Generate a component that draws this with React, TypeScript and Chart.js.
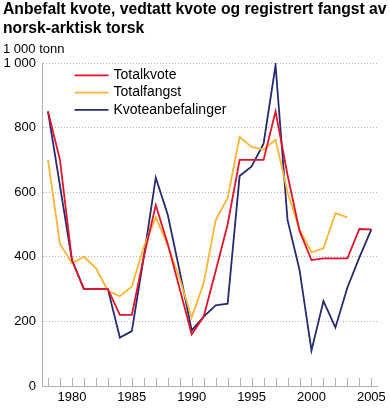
import { useEffect, useRef } from "react";
import { Chart, registerables } from "chart.js";

Chart.register(...registerables);

const years = [
  1978, 1979, 1980, 1981, 1982, 1983, 1984, 1985, 1986, 1987, 1988, 1989, 1990, 1991,
  1992, 1993, 1994, 1995, 1996, 1997, 1998, 1999, 2000, 2001, 2002, 2003, 2004, 2005,
];

const totalkvote = [
  850, 700, 390, 300, 300, 300, 220, 220, 400, 560, 440, 300, 160, 215,
  356, 500, 700, 700, 700, 850, 654, 480, 390, 395, 395, 395, 486, 485,
];

const totalfangst = [
  700, 440, 380, 400, 365, 295, 278, 308, 430, 523, 435, 332, 212, 319,
  513, 582, 771, 740, 732, 762, 600, 485, 414, 426, 535, 522, null, null,
];

const kvoteanbefalinger = [
  850, 620, 390, 300, 300, 300, 150, 170, 400, 645, 530, 355, 172, 215,
  250, 255, 650, 680, 750, 993, 514, 360, 110, 263, 181, 305, 398, 485,
];

const seriesNames = ["Totalkvote", "Totalfangst", "Kvoteanbefalinger"];
const seriesColors = ["#e2132a", "#fbb534", "#262c70"];

const titleLines = [
  "Anbefalt kvote, vedtatt kvote og registrert fangst av",
  "norsk-arktisk torsk",
];
const unitLabel = "1 000 tonn";

const FONT = "'Liberation Sans', Arial, Helvetica, sans-serif";

const textPlugin = {
  id: "textPlugin",
  afterDraw(chart: any) {
    const ctx = chart.ctx;
    ctx.save();
    // inward tick marks on x axis, one per category
    const xs = chart.scales.x;
    ctx.strokeStyle = "#b0b0b0";
    ctx.lineWidth = 1;
    ctx.beginPath();
    for (let i = 0; i < years.length; i++) {
      const px = Math.round(xs.getPixelForTick(i)) + 0.5;
      ctx.moveTo(px, xs.top);
      ctx.lineTo(px, xs.top - 8);
    }
    ctx.stroke();

    ctx.fillStyle = "#000";
    ctx.textAlign = "left";
    ctx.textBaseline = "alphabetic";
    ctx.font = `bold 15.7px ${FONT}`;
    ctx.fillText(titleLines[0], 3, 13.5);
    ctx.fillText(titleLines[1], 3, 33.3);
    ctx.font = `13px ${FONT}`;
    ctx.fillText(unitLabel, 3, 53.3);

    // legend inside plot area
    const area = chart.chartArea;
    const lx = area.left + 32.5;
    const ly = area.top + 12.4;
    chart.data.datasets.forEach((ds: any, i: number) => {
      const y = ly + i * 17.2;
      ctx.strokeStyle = ds.borderColor;
      ctx.lineWidth = 1.8;
      ctx.beginPath();
      ctx.moveTo(lx, y);
      ctx.lineTo(lx + 34, y);
      ctx.stroke();
      ctx.fillStyle = "#000";
      ctx.font = `14px ${FONT}`;
      ctx.textBaseline = "middle";
      ctx.fillText(ds.label, lx + 39, y);
    });
    ctx.restore();
  },
};

export default function App() {
  const ref = useRef<HTMLCanvasElement | null>(null);

  useEffect(() => {
    document.body.style.margin = "0";
    const canvas = ref.current;
    if (!canvas) return;
    const chart = new Chart(canvas, {
      type: "line",
      data: {
        labels: years.map(String),
        datasets: [totalkvote, totalfangst, kvoteanbefalinger].map((d, i) => ({
          label: seriesNames[i],
          data: d,
          borderColor: seriesColors[i],
          backgroundColor: seriesColors[i],
          borderWidth: 1.8,
          pointRadius: 0,
          tension: 0,
          fill: false,
          spanGaps: false,
        })),
      },
      options: {
        animation: false,
        responsive: false,
        maintainAspectRatio: false,
        layout: { padding: { top: 63, right: 10, left: 0, bottom: 0 } },
        plugins: {
          legend: { display: false },
          title: { display: false },
          tooltip: { enabled: false },
        },
        scales: {
          x: {
            type: "category",
            offset: true,
            afterFit: (scale: any) => {
              scale.height = 22;
            },
            grid: {
              display: false,
              drawOnChartArea: false,
              drawTicks: false,
              offset: false,
            },
            border: { display: true, color: "#b0b0b0", width: 1 },
            ticks: {
              autoSkip: false,
              maxRotation: 0,
              minRotation: 0,
              padding: 4,
              color: "#000",
              font: { family: FONT, size: 13 },
              callback: (_v: any, i: number) => (years[i] % 5 === 0 ? String(years[i]) : ""),
            },
          },
          y: {
            min: 0,
            max: 1000,
            afterFit: (scale: any) => {
              scale.width = 42;
            },
            grid: {
              color: "#b4b4b4",
              drawTicks: false,
              lineWidth: 1,
            },
            border: { display: true, color: "#b0b0b0", width: 1, dash: [1, 2] },
            ticks: {
              stepSize: 200,
              padding: 6,
              color: "#000",
              font: { family: FONT, size: 13 },
              callback: (v: any) => (Number(v) >= 1000 ? "1 000" : String(v)),
            },
          },
        },
      },
      plugins: [textPlugin],
    });
    return () => chart.destroy();
  }, []);

  return (
    <div style={{ width: 390, height: 408 }}>
      <canvas ref={ref} width={390} height={408} style={{ display: "block" }} />
    </div>
  );
}
